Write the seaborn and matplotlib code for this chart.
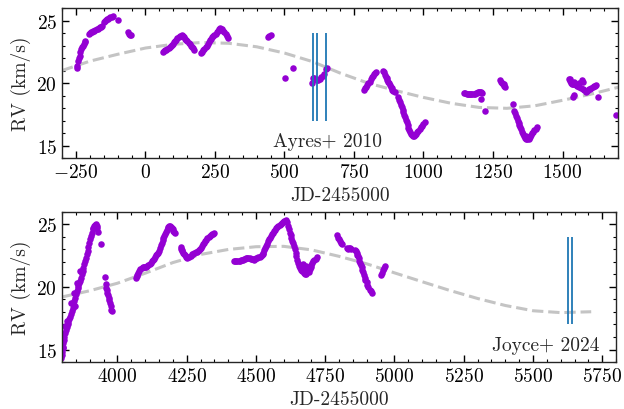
import numpy as np
import pandas as pd
import seaborn as sns
import matplotlib.pyplot as plt

# --- data ---
# top panel: RV points (JD-2455000, km/s)
top_jd = [-247, -245, -242, -240, -237, -234, -231, -228, -225, -222, -219, -216,
          -203, -200, -196, -192, -188, -184, -180, -176, -172, -168, -164, -160, -157,
          -150, -146, -142, -138, -134, -130, -126, -122, -118,
          -98, -64, -60, -56, -53,
          63, 67, 71, 75, 79, 83, 87, 91, 95, 99, 103, 107, 111, 115, 119, 123, 127, 131,
          135, 139, 143, 147, 151, 155, 159, 163, 167, 171, 175,
          200, 204, 208, 212, 216, 220, 224, 228, 232, 236, 240, 244, 248, 252, 256, 260,
          264, 268, 272, 276, 280, 284, 288, 292, 296,
          440, 445, 452, 502, 529,
          598, 602, 607, 612, 617, 622, 627, 632, 637, 641, 648, 654,
          786, 790, 794, 798, 802, 806, 810, 814, 818, 822, 826, 829,
          855, 858, 861, 864, 867, 870, 873, 876, 879, 882, 885, 888, 892, 896,
          910, 913, 916, 919, 922, 925, 928, 931, 934, 937, 940, 943, 946, 949, 952, 955,
          958, 962, 966, 970, 974, 978, 982, 986, 990, 995, 1000, 1005,
          1147, 1151, 1156, 1160, 1164, 1168, 1172, 1176, 1180, 1184, 1188, 1192, 1196,
          1200, 1204, 1208, 1212, 1208, 1220,
          1276, 1279, 1282, 1285, 1288, 1291, 1294, 1321,
          1327, 1330, 1333, 1336, 1339, 1342, 1345, 1348, 1351, 1354, 1357, 1361, 1366,
          1370, 1374, 1378, 1383, 1387, 1391, 1395, 1399, 1403, 1407, 1368, 1376, 1380,
          1522, 1526, 1528, 1529, 1533, 1537, 1540, 1541, 1545, 1549, 1553, 1557, 1560,
          1561, 1565, 1569, 1572, 1575, 1579, 1584, 1588, 1592, 1596, 1600, 1604, 1608,
          1612, 1616, 1620, 1539, 1541, 1626, 1692]
top_rv = [21.2, 21.4, 21.8, 22.0, 22.2, 22.5, 22.7, 22.85, 23.0, 23.1, 23.25, 23.35,
          23.9, 24.0, 24.05, 24.1, 24.15, 24.2, 24.25, 24.3, 24.35, 24.4, 24.45, 24.5, 24.6,
          24.85, 24.95, 25.05, 25.1, 25.15, 25.2, 25.28, 25.32, 25.35,
          25.02, 24.05, 23.95, 23.88, 23.82,
          22.5, 22.55, 22.62, 22.68, 22.75, 22.82, 22.9, 22.98, 23.05, 23.13, 23.25, 23.37,
          23.48, 23.58, 23.67, 23.74, 23.8, 23.82,
          23.75, 23.65, 23.55, 23.45, 23.35, 23.22, 23.1, 23.0, 22.9, 22.78, 22.68,
          22.42, 22.5, 22.62, 22.75, 22.88, 22.98, 23.15, 23.3, 23.42, 23.55, 23.65, 23.75,
          23.85, 23.95, 24.08, 24.2, 24.32, 24.38, 24.35, 24.3, 24.2, 24.05, 23.92, 23.75, 23.6,
          23.69, 23.78, 23.88, 20.37, 21.17,
          20.0, 20.4, 20.43, 20.3, 20.25, 20.28, 20.32, 20.45, 20.6, 20.75, 21.1, 21.2,
          19.45, 19.58, 19.72, 19.86, 20.0, 20.12, 20.3, 20.45, 20.58, 20.7, 20.8, 20.88,
          20.96, 20.85, 20.66, 20.5, 20.37, 20.22, 20.1, 20.03, 19.88, 19.72, 19.6, 19.48,
          19.35, 19.25,
          18.85, 18.65, 18.45, 18.25, 18.05, 17.85, 17.65, 17.45, 17.25, 17.05, 16.85, 16.62,
          16.42, 16.22, 16.05, 15.92,
          15.85, 15.8, 15.78, 15.85, 15.95, 16.05, 16.2, 16.3, 16.45, 16.6, 16.72, 16.85,
          19.23, 19.2, 19.15, 19.15, 19.12, 19.15, 19.12, 19.1, 19.12, 19.15, 19.2, 19.23, 19.28,
          19.3, 19.28, 19.25, 19.2, 18.7, 17.77,
          20.21, 20.12, 20.03, 19.96, 19.89, 19.8, 19.71, 18.3,
          17.77, 17.57, 17.37, 17.17, 16.97, 16.8, 16.65, 16.48, 16.31, 16.1, 15.91, 15.75, 15.64,
          15.55, 15.51, 15.62, 15.72, 15.85, 15.98, 16.1, 16.22, 16.35, 16.49, 15.8, 15.7, 15.5,
          20.3, 20.2, 20.35, 20.03, 19.95, 19.9, 20.1, 19.92, 19.95, 19.85, 19.8, 19.76, 20.0,
          19.7, 19.63, 20.21, 20.1, 19.5, 19.42, 19.31, 19.38, 19.45, 19.5, 19.55, 19.6, 19.68,
          19.74, 19.8, 19.84, 18.88, 19.05, 18.88, 17.45]

# bottom panel: RV points
bot_jd = [3798, 3799, 3800, 3800, 3802, 3804, 3805, 3806, 3808, 3811, 3812, 3814, 3817,
          3818, 3820, 3823, 3826, 3829, 3832, 3834, 3835, 3838, 3841, 3842, 3844, 3846,
          3847, 3850, 3853, 3855, 3856, 3859, 3862, 3865, 3866, 3868, 3871, 3874, 3877,
          3880, 3883, 3886, 3889, 3892, 3895, 3898, 3901, 3904, 3907, 3910, 3913, 3916,
          3919, 3922, 3925, 3928, 3931,
          3940, 3954, 3958, 3960, 3962, 3964, 3966, 3968, 3970, 3972, 3975, 3978, 3980,
          4066, 4069, 4072, 4075, 4078, 4082, 4087, 4091, 4096, 4100, 4104, 4108, 4112,
          4116, 4120, 4124, 4128, 4132, 4136, 4140, 4144, 4147, 4150, 4154, 4157, 4160,
          4163, 4166, 4169, 4172, 4175, 4178, 4181, 4184, 4187, 4190, 4193, 4196, 4199,
          4202, 4205, 4208,
          4228, 4230, 4232, 4234, 4237, 4240, 4243, 4247, 4252, 4256, 4260, 4265, 4270,
          4274, 4277, 4282, 4286, 4289, 4293, 4297, 4301, 4305, 4309, 4313, 4317, 4321,
          4325, 4329, 4333, 4337, 4341, 4345, 4349,
          4421, 4425, 4429, 4433, 4437, 4441, 4445, 4449, 4453, 4457, 4461, 4465, 4469,
          4473, 4477, 4481, 4485, 4489, 4493, 4497, 4501, 4505, 4509, 4513, 4517, 4521,
          4524, 4527, 4530, 4533, 4536, 4539, 4543, 4546, 4549, 4553, 4557, 4561, 4565,
          4569, 4573, 4577, 4581, 4585, 4589, 4593, 4597, 4601, 4605, 4609, 4613, 4616,
          4619, 4622, 4625, 4628, 4631, 4634, 4637, 4640, 4643, 4646, 4649, 4652, 4655,
          4658, 4661, 4665, 4668, 4671, 4674, 4677, 4679, 4676, 4682, 4685, 4688, 4692,
          4695, 4697, 4700, 4703, 4707, 4711, 4715, 4719, 4664, 4670, 4680, 4690,
          4791, 4795, 4799, 4803, 4808, 4812, 4828, 4832, 4836, 4840, 4844,
          4856, 4860, 4863, 4866, 4868, 4871, 4873, 4875, 4878, 4881, 4884, 4887, 4890,
          4892, 4895, 4899, 4902, 4906, 4911, 4915, 4920,
          4952, 4955, 4959, 4962, 4964]
bot_rv = [14.3, 14.6, 14.8, 15.5, 15.1, 15.5, 15.2, 15.8, 16.0, 16.3, 16.9, 16.6, 16.8,
          17.3, 17.0, 17.2, 17.4, 17.6, 17.8, 18.7, 18.1, 18.3, 18.6, 19.5, 18.85, 18.5,
          19.1, 19.4, 19.65, 20.3, 19.9, 20.1, 20.3, 20.5, 21.3, 20.7, 21.0, 21.25, 21.5,
          21.8, 22.05, 22.3, 22.6, 22.85, 23.2, 23.5, 23.8, 24.05, 24.35, 24.6, 24.75, 24.87,
          24.95, 25.05, 24.9, 24.7, 24.4,
          23.45, 20.78, 20.2, 19.92, 19.72, 19.52, 19.32, 19.12, 18.92, 18.72, 18.45, 18.18, 18.1,
          20.72, 20.85, 20.99, 21.12, 21.26, 21.4, 21.52, 21.56, 21.58, 21.6, 21.63, 21.66, 21.75,
          21.85, 21.93, 22.05, 22.15, 22.25, 22.4, 22.52, 22.63, 22.73, 22.9, 23.13, 23.35, 23.55,
          23.75, 23.92, 24.1, 24.25, 24.4, 24.58, 24.7, 24.8, 24.87, 24.85, 24.8, 24.72, 24.62,
          24.5, 24.38, 24.3,
          23.18, 23.05, 22.95, 22.86, 22.75, 22.63, 22.54, 22.42, 22.33, 22.38, 22.42, 22.46, 22.6,
          22.66, 22.73, 22.78, 22.83, 22.86, 22.95, 23.05, 23.13, 23.25, 23.4, 23.53, 23.65, 23.77,
          23.88, 23.96, 24.05, 24.14, 24.2, 24.27, 24.33,
          22.11, 22.08, 22.05, 22.05, 22.06, 22.1, 22.15, 22.12, 22.18, 22.2, 22.25, 22.28, 22.3,
          22.3, 22.3, 22.25, 22.22, 22.2, 22.19, 22.25, 22.3, 22.33, 22.4, 22.43, 22.46, 22.55,
          22.65, 22.73, 22.95, 23.15, 23.3, 23.45, 23.66, 23.8, 23.92, 24.06, 24.2, 24.33, 24.47,
          24.58, 24.7, 24.79, 24.88, 24.97, 25.05, 25.13, 25.2, 25.27, 25.3, 25.32, 25.2, 24.9,
          24.6, 24.35, 24.15, 23.93, 23.7, 23.48, 23.25, 23.0, 22.73, 22.45, 22.19, 21.92, 21.66,
          21.5, 21.39, 21.3, 21.5, 21.26, 21.1, 21.0, 21.04, 21.52, 21.2, 21.3, 21.39, 21.55,
          21.45, 21.79, 21.6, 21.9, 22.06, 22.15, 22.27, 22.38, 21.7, 21.8, 21.7, 21.2,
          24.14, 23.95, 23.8, 23.66, 23.55, 23.45, 23.1, 23.07, 23.08, 23.08, 23.07,
          22.95, 22.86, 22.7, 22.56, 22.46, 22.28, 22.1, 21.93, 21.75, 21.57, 21.39, 21.2, 20.95,
          20.72, 20.55, 20.36, 20.19, 20.0, 19.79, 19.65, 19.52,
          20.99, 21.15, 21.39, 21.55, 21.66]

# orbit model curve
top_curve_jd = [-300, -200, -100, 0, 100, 200, 300, 400, 500, 600, 700, 800, 900, 1000,
                1100, 1200, 1300, 1400, 1500, 1600, 1700]
top_curve_rv = [21.0, 21.75, 22.3, 22.8, 23.1, 23.24, 23.18, 22.9, 22.4, 21.72, 20.8, 20.0,
                19.4, 18.85, 18.38, 18.05, 17.98, 18.18, 18.62, 19.1, 19.66]
bot_curve_jd = [3800, 3900, 4000, 4100, 4200, 4300, 4400, 4500, 4600, 4700, 4800, 4900,
                5000, 5100, 5200, 5300, 5400, 5500, 5600, 5710]
bot_curve_rv = [19.2, 19.7, 20.3, 21.1, 21.95, 22.6, 23.0, 23.22, 23.25, 22.97, 22.45, 21.85,
                21.13, 20.42, 19.72, 19.08, 18.52, 18.1, 17.95, 18.02]

# epochs of the literature spectra
ayres_jd = [601, 616, 651]
joyce_jd = [5628, 5640]

sns.set_style('ticks')
plt.rcParams['font.family'] = ['cmr10', 'DejaVu Serif']
plt.rcParams['mathtext.fontset'] = 'cm'
plt.rcParams['axes.formatter.use_mathtext'] = True
plt.rcParams['font.size'] = 14
plt.rcParams['axes.linewidth'] = 1.0
for ax_ in ['xtick', 'ytick']:
    plt.rcParams[ax_ + '.direction'] = 'in'
    plt.rcParams[ax_ + '.major.size'] = 5
    plt.rcParams[ax_ + '.minor.size'] = 2.5
    plt.rcParams[ax_ + '.major.width'] = 1.0
    plt.rcParams[ax_ + '.minor.width'] = 0.8
    plt.rcParams[ax_ + '.color'] = 'black'
plt.rcParams['xtick.top'] = True
plt.rcParams['ytick.right'] = True

fig = plt.figure(figsize=(6.24, 4.10), dpi=100)
ax1 = fig.add_axes([0.0994, 0.612, 0.8912, 0.366])
ax2 = fig.add_axes([0.0994, 0.1146, 0.8880, 0.366])

panels = [
    (ax1, top_jd, top_rv, top_curve_jd, top_curve_rv, ayres_jd, (-300, 1700), 'Ayres+ 2010', (655, 15.0)),
    (ax2, bot_jd, bot_rv, bot_curve_jd, bot_curve_rv, joyce_jd, (3800, 5800), 'Joyce+ 2024', (5546, 14.97)),
]

for ax, jd, rv, cjd, crv, ljd, xl, lab, pos in panels:
    sns.lineplot(x=cjd, y=crv, ax=ax, color='#c4c4c4', linestyle='--', linewidth=2.2,
                 sort=False, zorder=1)
    sns.scatterplot(x=jd, y=rv, ax=ax, color='#9400d3', s=22, linewidth=0, zorder=2)
    ax.vlines(ljd, 17, 24, color='#1f77b4', linewidth=1.3, zorder=3)
    ax.text(pos[0], pos[1], lab, ha='center', va='baseline', fontsize=14)
    ax.set_xlim(*xl)
    ax.set_ylim(14, 26)
    ax.set_yticks([15, 20, 25])
    ax.xaxis.set_minor_locator(plt.MultipleLocator(50))
    ax.yaxis.set_minor_locator(plt.MultipleLocator(1))
    ax.tick_params(which='both', top=True, right=True, direction='in')
    ax.set_xlabel('JD-2455000')
    ax.set_ylabel('RV (km/s)')

ax1.set_xticks([-250, 0, 250, 500, 750, 1000, 1250, 1500])
ax2.set_xticks([4000, 4250, 4500, 4750, 5000, 5250, 5500, 5750])

fig.savefig('out.png', dpi=100)
